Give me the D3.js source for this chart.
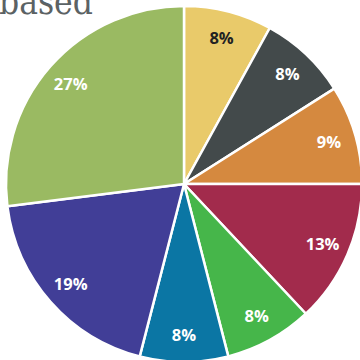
<!DOCTYPE html>
<html>
<head>
<meta charset="utf-8">
<script src="https://cdn.jsdelivr.net/npm/d3@7"></script>
<style>
  html, body { margin: 0; padding: 0; background: #fff; overflow: hidden; }
  svg { display: block; }
</style>
</head>
<body>
<svg id="chart" width="360" height="360"></svg>
<script>
// Share of each segment, clockwise from 12 o'clock
const segments = ["A", "B", "C", "D", "E", "F", "G", "H"];
const shares = [8, 8, 9, 13, 8, 8, 19, 27];
const colors = ["#e9ca6a", "#434a4b", "#d5893f", "#a22b4c", "#46b64a", "#0b76a4", "#413e97", "#9aba62"];
const labelColors = ["#222222", "#ffffff", "#ffffff", "#ffffff", "#ffffff", "#ffffff", "#ffffff", "#ffffff"];
const titleText = "based";

const svg = d3.select("#chart");
const cx = 184, cy = 184, R = 178;

// Last line of the heading, running off the top edge
svg.append("text")
  .attr("x", -1)
  .attr("y", 13.5)
  .attr("font-family", "'DejaVu Serif Condensed', 'DejaVu Serif', serif")
  .attr("font-stretch", "condensed")
  .attr("font-size", 35)
  .attr("fill", "#5b6264")
  .text(titleText);

const pie = d3.pie().value(d => d).sort(null);
const arcs = pie(shares);
const arc = d3.arc().innerRadius(0).outerRadius(R);
const labelArc = d3.arc().innerRadius(151).outerRadius(151);

const g = svg.append("g").attr("transform", `translate(${cx},${cy})`);

g.selectAll("path")
  .data(arcs)
  .join("path")
  .attr("d", arc)
  .attr("fill", (d, i) => colors[i])
  .attr("stroke", "#ffffff")
  .attr("stroke-width", 2.5)
  .attr("stroke-linejoin", "round");

g.selectAll("text.lbl")
  .data(arcs)
  .join("text")
  .attr("class", "lbl")
  .attr("transform", d => `translate(${labelArc.centroid(d)})`)
  .attr("text-anchor", "middle")
  .attr("dy", "0.36em")
  .attr("font-family", "'Open Sans', sans-serif")
  .attr("font-weight", "bold")
  .attr("font-size", 16.5)
  .attr("fill", (d, i) => labelColors[i])
  .text(d => d.data + "%");
</script>
</body>
</html>
